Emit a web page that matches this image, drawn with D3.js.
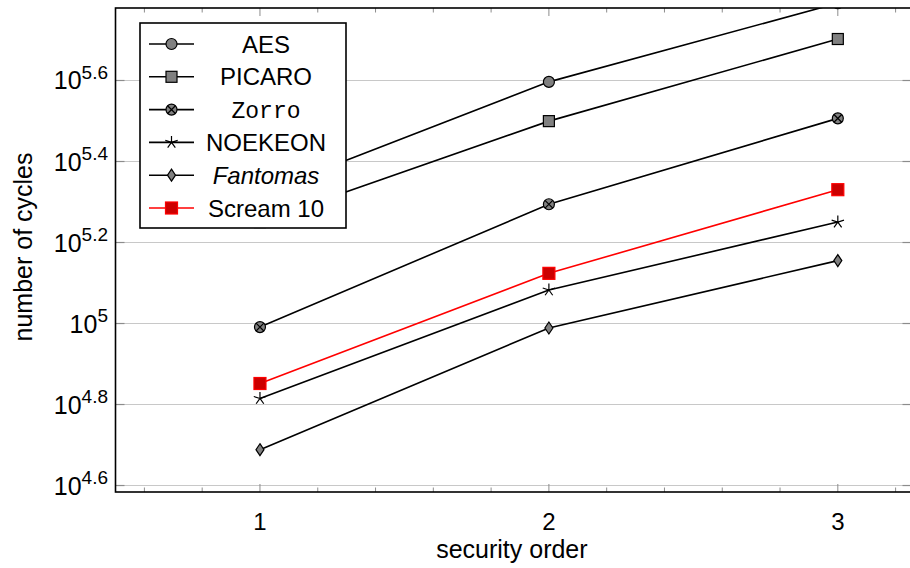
<!DOCTYPE html>
<html>
<head>
<meta charset="utf-8">
<script src="https://cdn.jsdelivr.net/npm/d3@7"></script>
<style>
  body { margin: 0; background: #fff; }
  svg { display: block; font-family: "Liberation Sans", Arial, sans-serif; }
</style>
</head>
<body>
<svg width="910" height="568"></svg>
<script>
// security order on x, number of cycles (log) on y
const orders = [1, 2, 3];
const seriesNames = ["AES", "PICARO", "Zorro", "NOEKEON", "Fantomas", "Scream 10"];
const aes = [209000, 395000, 618000];
const picaro = [178000, 316000, 504000];
const zorro = [98000, 197000, 321000];
const noekeon = [65300, 121000, 178000];
const fantomas = [48800, 97500, 143000];
const scream = [71100, 133000, 214000];
const yTickExponents = ["4.6", "4.8", "5", "5.2", "5.4", "5.6"];
const xTicks = [1, 2, 3];

const series = [
  { name: seriesNames[0], values: aes, marker: "circle", line: "#000" },
  { name: seriesNames[1], values: picaro, marker: "square", line: "#000" },
  { name: seriesNames[2], values: zorro, marker: "otimes", line: "#000" },
  { name: seriesNames[3], values: noekeon, marker: "star", line: "#000" },
  { name: seriesNames[4], values: fantomas, marker: "diamond", line: "#000" },
  { name: seriesNames[5], values: scream, marker: "redsquare", line: "#ff0000" }
];

const svg = d3.select("svg");
const plotLeft = 115.5, plotTop = 8, plotRight = 911.5, plotBottom = 492;

const x = d3.scaleLinear().domain([0.5, 3.255]).range([plotLeft, plotRight]);
const y = d3.scaleLog()
  .domain([Math.pow(10, 4.584), Math.pow(10, 5.779)])
  .range([plotBottom, plotTop]);

svg.append("clipPath").attr("id", "plot-clip")
  .append("rect")
  .attr("x", plotLeft).attr("y", plotTop)
  .attr("width", plotRight - plotLeft).attr("height", plotBottom - plotTop);

// grid
svg.append("g")
  .selectAll("line")
  .data(yTickExponents)
  .enter()
  .append("line")
  .attr("x1", plotLeft).attr("x2", plotRight)
  .attr("y1", (d) => y(Math.pow(10, +d)))
  .attr("y2", (d) => y(Math.pow(10, +d)))
  .attr("stroke", "#c8c8c8")
  .attr("stroke-width", 1.2);

// ticks (inside the frame)
const minorX = d3.range(0.6, 3.25, 0.2).filter((v) => Math.abs(v - Math.round(v)) > 0.01);
const tickColor = "#8c8c8c";

function drawXTicks(yPos, dir) {
  const gx = svg.append("g");
  gx.selectAll("line.minor")
    .data(minorX)
    .enter()
    .append("line")
    .attr("x1", (d) => x(d)).attr("x2", (d) => x(d))
    .attr("y1", yPos).attr("y2", yPos + dir * 4.5)
    .attr("stroke", tickColor).attr("stroke-width", 1);
  gx.selectAll("line.major")
    .data(xTicks)
    .enter()
    .append("line")
    .attr("x1", (d) => x(d)).attr("x2", (d) => x(d))
    .attr("y1", yPos).attr("y2", yPos + dir * 8)
    .attr("stroke", tickColor).attr("stroke-width", 1);
}
drawXTicks(plotBottom, -1);
drawXTicks(plotTop, 1);

function drawYTicks(xPos, dir) {
  svg.append("g")
    .selectAll("line")
    .data(yTickExponents)
    .enter()
    .append("line")
    .attr("x1", xPos).attr("x2", xPos + dir * 9)
    .attr("y1", (d) => y(Math.pow(10, +d)))
    .attr("y2", (d) => y(Math.pow(10, +d)))
    .attr("stroke", tickColor).attr("stroke-width", 1.2);
}
drawYTicks(plotLeft, 1);
drawYTicks(plotRight, -1);

// data
const plot = svg.append("g").attr("clip-path", "url(#plot-clip)");
const lineGen = d3.line()
  .x((d, i) => x(orders[i]))
  .y((d) => y(d));

function drawMarker(sel, type) {
  if (type === "circle") {
    sel.append("circle").attr("r", 5.5)
      .attr("fill", "#808080").attr("stroke", "#000").attr("stroke-width", 1.2);
  } else if (type === "square") {
    sel.append("rect").attr("x", -5.5).attr("y", -5.5)
      .attr("width", 11).attr("height", 11)
      .attr("fill", "#808080").attr("stroke", "#000").attr("stroke-width", 1.2);
  } else if (type === "otimes") {
    sel.append("circle").attr("r", 5.5)
      .attr("fill", "#808080").attr("stroke", "#000").attr("stroke-width", 1.2);
    const k = 5.5 * Math.SQRT1_2;
    sel.append("path")
      .attr("d", `M${-k},${-k}L${k},${k}M${-k},${k}L${k},${-k}`)
      .attr("stroke", "#000").attr("stroke-width", 1.2);
  } else if (type === "star") {
    const r = 6.5;
    const d = d3.range(5).map((i) => {
      const a = -Math.PI / 2 + i * 2 * Math.PI / 5;
      return `M0,0L${r * Math.cos(a)},${r * Math.sin(a)}`;
    }).join("");
    sel.append("path").attr("d", d)
      .attr("stroke", "#000").attr("stroke-width", 1.2).attr("fill", "none");
  } else if (type === "diamond") {
    sel.append("path").attr("d", "M0,-6L4,0L0,6L-4,0Z")
      .attr("fill", "#808080").attr("stroke", "#000").attr("stroke-width", 1.2);
  } else if (type === "redsquare") {
    sel.append("rect").attr("x", -6).attr("y", -6)
      .attr("width", 12).attr("height", 12)
      .attr("fill", "#cc0000").attr("stroke", "#ff0000").attr("stroke-width", 1.2);
  }
}

series.forEach((s) => {
  plot.append("path")
    .datum(s.values)
    .attr("fill", "none")
    .attr("stroke", s.line)
    .attr("stroke-width", 1.6)
    .attr("d", lineGen);

  plot.selectAll(null)
    .data(s.values)
    .enter()
    .append("g")
    .attr("transform", (d, i) => `translate(${x(orders[i])},${y(d)})`)
    .each(function () { drawMarker(d3.select(this), s.marker); });
});

// frame
svg.append("rect")
  .attr("x", plotLeft).attr("y", plotTop)
  .attr("width", plotRight - plotLeft).attr("height", plotBottom - plotTop)
  .attr("fill", "none").attr("stroke", "#000").attr("stroke-width", 1.6);

// tick labels
svg.append("g")
  .selectAll("text")
  .data(xTicks)
  .enter()
  .append("text")
  .attr("x", (d) => x(d))
  .attr("y", 530)
  .attr("text-anchor", "middle")
  .attr("font-size", 24)
  .text((d) => d);

const yLabels = svg.append("g")
  .selectAll("text")
  .data(yTickExponents)
  .enter()
  .append("text")
  .attr("x", 108)
  .attr("y", (d) => y(Math.pow(10, +d)) + 9)
  .attr("text-anchor", "end")
  .attr("font-size", 25);
yLabels.append("tspan").text("10");
yLabels.append("tspan")
  .attr("font-size", 19)
  .attr("dy", -10.5)
  .text((d) => d);

// axis titles
svg.append("text")
  .attr("x", x(2) - 37)
  .attr("y", 558)
  .attr("text-anchor", "middle")
  .attr("font-size", 25)
  .text("security order");

svg.append("text")
  .attr("transform", "translate(32,247) rotate(-90)")
  .attr("text-anchor", "middle")
  .attr("font-size", 25)
  .text("number of cycles");

// legend
const legend = svg.append("g");
legend.append("rect")
  .attr("x", 140).attr("y", 23)
  .attr("width", 206).attr("height", 205)
  .attr("fill", "#fff").attr("stroke", "#000").attr("stroke-width", 1.6);

const rowY = (i) => 44 + i * 32.8;
const rows = legend.selectAll("g.row")
  .data(series)
  .enter()
  .append("g")
  .attr("class", "row")
  .attr("transform", (d, i) => `translate(0,${rowY(i)})`);

rows.append("line")
  .attr("x1", 149).attr("x2", 194)
  .attr("y1", 0).attr("y2", 0)
  .attr("stroke", (d) => d.line)
  .attr("stroke-width", 1.6);

rows.append("g")
  .attr("transform", "translate(171.5,0)")
  .each(function (d) { drawMarker(d3.select(this), d.marker); });

rows.append("text")
  .attr("x", 266)
  .attr("y", 8.5)
  .attr("text-anchor", "middle")
  .attr("font-size", (d) => d.name === "Zorro" ? 23 : 24)
  .attr("font-family", (d) => d.name === "Zorro" ? "'Liberation Mono', monospace" : null)
  .attr("font-style", (d) => d.name === "Fantomas" ? "italic" : null)
  .text((d) => d.name);
</script>
</body>
</html>
